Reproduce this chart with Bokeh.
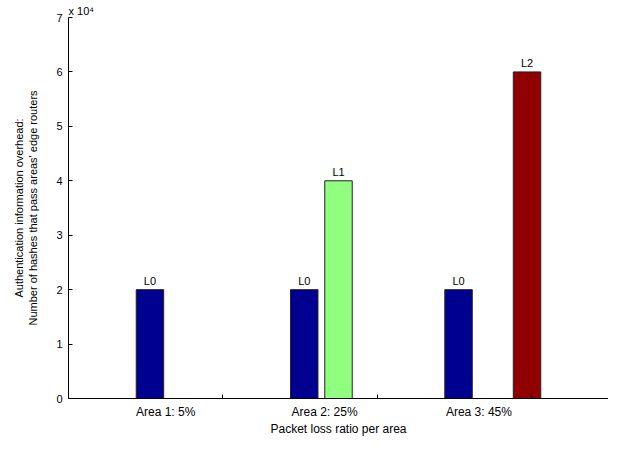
from bokeh.plotting import figure
from bokeh.models import FixedTicker, ColumnDataSource, Range1d
from bokeh.embed import file_html
from bokeh.resources import INLINE
from bokeh.core.properties import value

# ---- data ----
area_labels = ["Area 1: 5%", "Area 2: 25%", "Area 3: 45%"]
area_label_pos = [0.63, 1.66, 2.66]
group_centers = [0.75, 1.75, 2.75]
group_ticks = [1, 2, 3]
series_names = ["L0", "L1", "L2"]
series_colors = ["#000090", "#90FF80", "#900000"]
L0_values = [20000, 20000, 20000]
L1_values = [0, 40000, 0]
L2_values = [0, 0, 60000]
y_ticks = [0, 10000, 20000, 30000, 40000, 50000, 60000, 70000]
y_tick_labels = ["0", "1", "2", "3", "4", "5", "6", "7"]

FONT = "Liberation Sans"
slot_offsets = [-0.222, 0.0, 0.222]
bar_width = 0.178

p = figure(width=608, height=438, output_backend="svg", toolbar_location=None,
           x_range=Range1d(0, 3.5), y_range=Range1d(0, 70000),
           min_border_left=68, min_border_right=0, min_border_top=17, min_border_bottom=30,
           title="x 10\u2074")
p.outline_line_color = None
p.xgrid.visible = False
p.ygrid.visible = False
p.title.align = "left"
p.title.text_font = FONT
p.title.text_font_size = "11px"
p.title.text_font_style = "normal"
p.title.text_color = "black"
p.title.standoff = 1
p.title.offset = 0

all_series = [L0_values, L1_values, L2_values]
xs, tops, names, colors = [], [], [], []
for si, vals in enumerate(all_series):
    for gi, v in enumerate(vals):
        if v > 0:
            xs.append(group_centers[gi] + slot_offsets[si])
            tops.append(v)
            names.append(series_names[si])
            colors.append(series_colors[si])

src = ColumnDataSource(dict(x=xs, top=tops, name=names, color=colors))
p.vbar(x="x", top="top", bottom=0, width=bar_width, fill_color="color",
       line_color="#222222", line_width=1, source=src)
p.text(x="x", y="top", text="name", source=src, text_align="center",
       text_baseline="bottom", y_offset=-3, text_font=value(FONT),
       text_font_style="normal", text_font_size="11px", text_color="black")

# x axis
xa = p.xaxis[0]
xa.ticker = FixedTicker(ticks=area_label_pos, minor_ticks=group_ticks)
xa.major_label_overrides = {pos: lab for pos, lab in zip(area_label_pos, area_labels)}
xa.major_tick_line_color = None
xa.major_tick_in = 0
xa.major_tick_out = 0
xa.minor_tick_in = 4
xa.minor_tick_out = 0
xa.minor_tick_line_color = "black"
xa.major_label_standoff = 6
xa.major_label_text_font = FONT
xa.major_label_text_font_size = "12px"
xa.major_label_text_color = "black"
xa.axis_label = "Packet loss ratio per area"
xa.axis_label_text_font = FONT
xa.axis_label_text_font_size = "12px"
xa.axis_label_text_font_style = "normal"
xa.axis_label_text_color = "black"
xa.axis_label_standoff = 0
xa.axis_line_color = "black"

# y axis
ya = p.yaxis[0]
ya.ticker = FixedTicker(ticks=y_ticks, minor_ticks=[])
ya.major_label_overrides = {t: lab for t, lab in zip(y_ticks, y_tick_labels)}
ya.major_tick_in = 4
ya.major_tick_out = 0
ya.major_tick_line_color = "black"
ya.minor_tick_line_color = None
ya.major_label_standoff = 6
ya.major_label_text_font = FONT
ya.major_label_text_font_size = "11px"
ya.major_label_text_color = "black"
ya.axis_label = "Authentication information overhead:\nNumber of hashes that pass areas' edge routers"
ya.axis_label_text_font = FONT
ya.axis_label_text_font_size = "11px"
ya.axis_label_text_font_style = "normal"
ya.axis_label_text_color = "black"
ya.axis_label_standoff = 14
ya.axis_line_color = "black"

open("out.html", "w").write(file_html(p, INLINE))
